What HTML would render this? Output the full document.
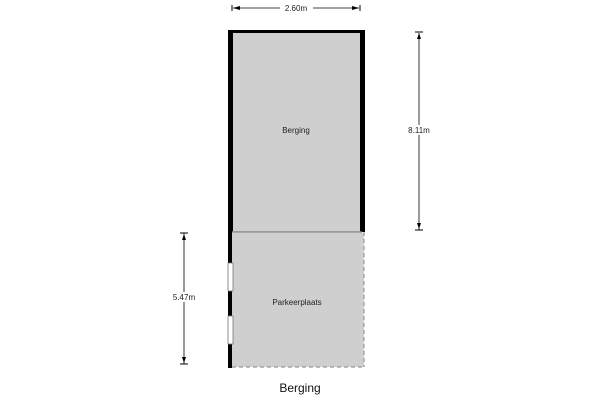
<!DOCTYPE html>
<html><head><style>body{margin:0;background:#fff}</style></head><body>
<svg width="600" height="400" xmlns="http://www.w3.org/2000/svg" font-family="Liberation Sans, sans-serif">
<rect x="0" y="0" width="600" height="400" fill="#fff"/>
<!-- top room -->
<rect x="228" y="30" width="137" height="202" fill="#000"/>
<rect x="233" y="33" width="127" height="199" fill="#cfcfcf"/>
<line x1="232" y1="232" x2="362" y2="232" stroke="#888" stroke-width="1.5"/>
<!-- lower area -->
<rect x="232" y="233" width="132" height="134" fill="#cfcfcf"/>
<rect x="228" y="232" width="4" height="136" fill="#000"/>
<rect x="228" y="263" width="5" height="28" fill="#fff" stroke="#777" stroke-width="0.8"/>
<rect x="228" y="316" width="5" height="28" fill="#fff" stroke="#777" stroke-width="0.8"/>
<line x1="364" y1="232" x2="364" y2="367" stroke="#999" stroke-width="1.2" stroke-dasharray="4,3"/>
<line x1="232" y1="367" x2="364" y2="367" stroke="#999" stroke-width="1.2" stroke-dasharray="4,3"/>
<!-- labels -->
<text x="296" y="133" font-size="8" text-anchor="middle" fill="#222">Berging</text>
<text x="297" y="305" font-size="8" text-anchor="middle" fill="#222">Parkeerplaats</text>
<!-- top dimension -->
<line x1="233" y1="8" x2="280" y2="8" stroke="#000" stroke-width="0.8"/>
<line x1="313" y1="8" x2="359" y2="8" stroke="#000" stroke-width="0.8"/>
<line x1="232" y1="5" x2="232" y2="11" stroke="#000"/>
<line x1="360" y1="5" x2="360" y2="11" stroke="#000"/>
<polygon points="233,8 240,6 240,10" fill="#000"/>
<polygon points="359,8 352,6 352,10" fill="#000"/>
<text x="296" y="11" font-size="8" text-anchor="middle" fill="#222">2.60m</text>
<!-- right dimension -->
<line x1="419" y1="33" x2="419" y2="230" stroke="#000" stroke-width="0.8"/>
<line x1="415" y1="32" x2="423" y2="32" stroke="#000"/>
<line x1="415" y1="230" x2="423" y2="230" stroke="#000"/>
<polygon points="419,33 417,39 421,39" fill="#000"/>
<polygon points="419,229 417,223 421,223" fill="#000"/>
<rect x="403" y="125" width="32" height="10" fill="#fff"/>
<text x="419" y="133" font-size="8" text-anchor="middle" fill="#222">8.11m</text>
<!-- left dimension -->
<line x1="184" y1="233" x2="184" y2="364" stroke="#000" stroke-width="0.8"/>
<line x1="180" y1="233" x2="188" y2="233" stroke="#000"/>
<line x1="180" y1="364" x2="188" y2="364" stroke="#000"/>
<polygon points="184,234 182,240 186,240" fill="#000"/>
<polygon points="184,363 182,357 186,357" fill="#000"/>
<rect x="168" y="292" width="32" height="10" fill="#fff"/>
<text x="184" y="300" font-size="8" text-anchor="middle" fill="#222">5.47m</text>
<!-- title -->
<text x="300" y="392" font-size="12" text-anchor="middle" fill="#111">Berging</text>
</svg>
</body></html>
